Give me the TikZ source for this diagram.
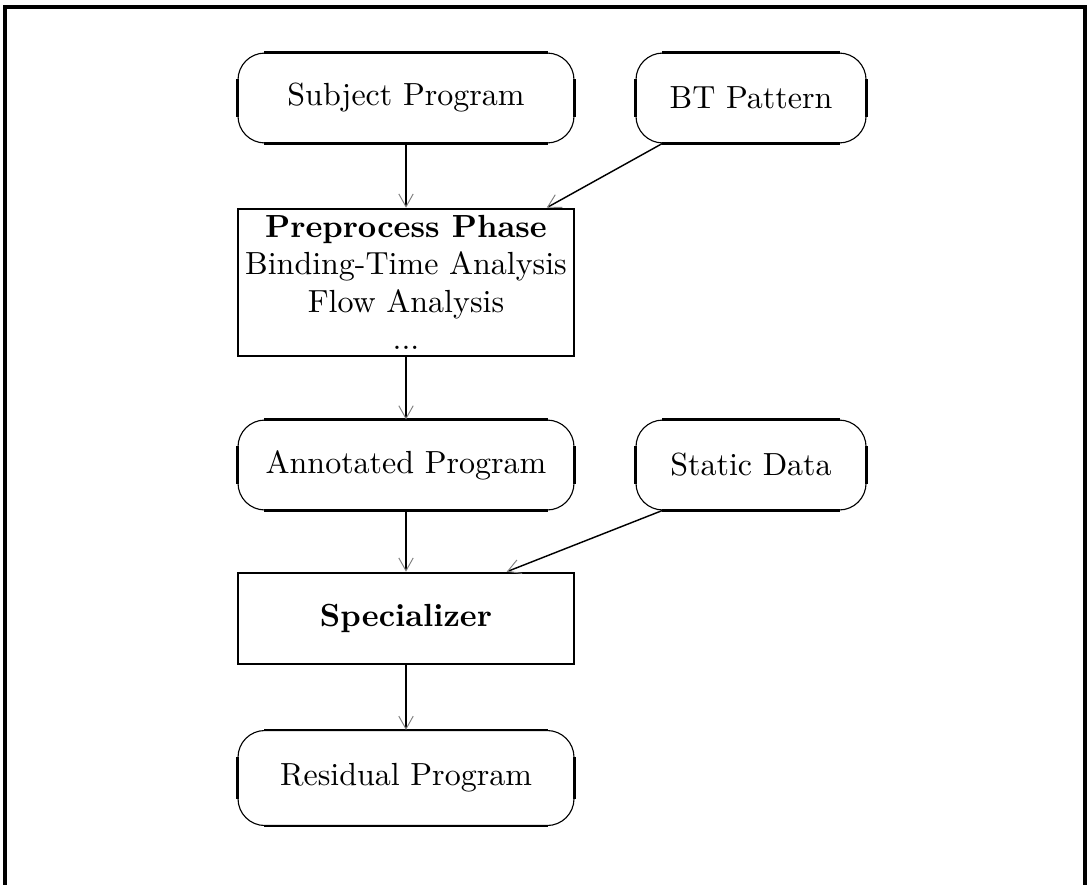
\documentclass[tikz,border=0pt]{standalone}
\usetikzlibrary{arrows.meta}
\begin{document}
\begin{tikzpicture}[x=0.3125pt,y=-0.3125pt,
  oval/.style={draw,line width=0.35pt,rounded corners=8.4pt,minimum height=28.1pt,inner sep=0pt},
  boxnode/.style={draw,line width=0.85pt,minimum width=105pt,inner sep=0pt,align=center},
  flow/.style={line width=0.45pt,-{Straight Barb[length=4pt,width=4.5pt,line width=0.3pt,color=gray]}}]
\clip (0,0) rectangle (1091,884);
\useasboundingbox (0,0) rectangle (1091,884);
\draw[line width=1.2pt] (5,950) -- (5,7) -- (1085,7) -- (1085,950);
% nodes
\node[oval,minimum width=105pt] (subj) at (406,98) {Subject Program};
\node[oval,minimum width=71.9pt] (bt) at (751,98) {BT Pattern};
\node[boxnode,minimum height=45.9pt] (pre) at (406,282.5)
  {\textbf{Preprocess Phase}\\[-0.3pt]Binding-Time Analysis\\[-0.3pt]Flow Analysis\\[-0.3pt]{.}{.}{.}};
\node[oval,minimum width=105pt] (ann) at (406,465) {Annotated Program};
\node[oval,minimum width=71.9pt] (stat) at (751,465) {Static Data};
\node[boxnode,minimum height=28.4pt] (spec) at (406,618.5) {\textbf{Specializer}};
\node[oval,minimum width=105pt,minimum height=29.7pt] (res) at (406,778) {Residual Program};
% thick straight parts of ovals
\foreach \n in {subj,bt,ann,stat,res}{
  \draw[line width=0.85pt] ([xshift=8.4pt]\n.north west) -- ([xshift=-8.4pt]\n.north east);
  \draw[line width=0.85pt] ([xshift=8.4pt]\n.south west) -- ([xshift=-8.4pt]\n.south east);
  \draw[line width=0.85pt] ([yshift=-8.4pt]\n.north west) -- ([yshift=8.4pt]\n.south west);
  \draw[line width=0.85pt] ([yshift=-8.4pt]\n.north east) -- ([yshift=8.4pt]\n.south east);
}
% connectors
\draw[flow] (subj.south) -- (pre.north);
\draw[flow] ([xshift=8.4pt]bt.south west) -- ([xshift=96.9pt]pre.north west);
\draw[flow] (pre.south) -- (ann.north);
\draw[flow] (ann.south) -- (spec.north);
\draw[flow] ([xshift=8.4pt]stat.south west) -- ([xshift=84.4pt]spec.north west);
\draw[flow] (spec.south) -- (res.north);
\end{tikzpicture}
\end{document}
